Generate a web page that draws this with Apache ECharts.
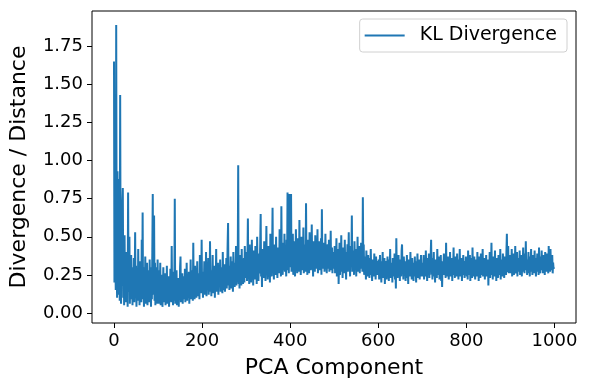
<!DOCTYPE html>
<html>
    <head>
        <meta charset="utf-8">
        <title>KL Divergence</title>
        <script src="https://cdn.jsdelivr.net/npm/echarts/dist/echarts.min.js"></script>
        <style>
            body { margin: 0; background: #fff; }
        </style>
    </head>
    <body>
        <div id="chart1" style="width:589px;height:390px;"></div>
    </body>
    <script type="text/javascript">
        // KL divergence per PCA component, one array per block of 100 components
        var seg0 = [1.65, 0.20, 0.62, 0.35, 0.15, 1.89, 0.40, 0.10, 0.93, 0.25, 0.88, 0.12, 0.45, 0.08, 1.43, 0.30, 0.06, 0.55, 0.18, 0.72,
                    0.82, 0.10, 0.35, 0.05, 0.51, 0.15, 0.28, 0.07, 0.40, 0.12, 0.22, 0.04, 0.79, 0.14, 0.33, 0.50, 0.06, 0.25, 0.13, 0.38,
                    0.09, 0.30, 0.05, 0.24, 0.11, 0.36, 0.07, 0.20, 0.53, 0.10, 0.31, 0.04, 0.18, 0.27, 0.08, 0.42, 0.12, 0.22, 0.05, 0.34,
                    0.10, 0.26, 0.07, 0.48, 0.14, 0.66, 0.09, 0.30, 0.04, 0.21, 0.12, 0.37, 0.06, 0.24, 0.15, 0.33, 0.05, 0.19, 0.10, 0.28,
                    0.07, 0.35, 0.11, 0.22, 0.04, 0.30, 0.09, 0.40, 0.78, 0.12, 0.26, 0.64, 0.08, 0.33, 0.05, 0.30, 0.14, 0.21, 0.06, 0.35];
        var seg1 = [0.12, 0.28, 0.06, 0.20, 0.10, 0.33, 0.05, 0.17, 0.09, 0.25, 0.04, 0.14, 0.30, 0.07, 0.19, 0.11, 0.26, 0.05, 0.22, 0.08,
                    0.31, 0.06, 0.15, 0.10, 0.24, 0.04, 0.18, 0.09, 0.29, 0.12, 0.07, 0.44, 0.10, 0.21, 0.05, 0.27, 0.08, 0.16, 0.75, 0.06,
                    0.19, 0.11, 0.28, 0.05, 0.14, 0.09, 0.23, 0.04, 0.17, 0.10, 0.30, 0.37, 0.07, 0.20, 0.12, 0.26, 0.06, 0.15, 0.09, 0.24,
                    0.11, 0.29, 0.07, 0.18, 0.13, 0.33, 0.08, 0.21, 0.10, 0.16, 0.27, 0.06, 0.19, 0.12, 0.35, 0.09, 0.22, 0.14, 0.28, 0.08,
                    0.46, 0.12, 0.20, 0.09, 0.31, 0.15, 0.24, 0.10, 0.18, 0.34, 0.11, 0.26, 0.14, 0.21, 0.09, 0.38, 0.13, 0.25, 0.16, 0.48];
        var seg2 = [0.13, 0.27, 0.10, 0.22, 0.16, 0.34, 0.12, 0.25, 0.18, 0.40, 0.11, 0.29, 0.15, 0.21, 0.36, 0.12, 0.26, 0.14, 0.47, 0.17,
                    0.28, 0.11, 0.24, 0.19, 0.38, 0.13, 0.23, 0.16, 0.31, 0.10, 0.27, 0.20, 0.42, 0.14, 0.25, 0.18, 0.33, 0.12, 0.29, 0.17,
                    0.22, 0.35, 0.14, 0.26, 0.19, 0.30, 0.13, 0.40, 0.20, 0.24, 0.15, 0.32, 0.14, 0.27, 0.21, 0.36, 0.16, 0.28, 0.45, 0.59,
                    0.18, 0.31, 0.15, 0.26, 0.22, 0.37, 0.16, 0.29, 0.19, 0.34, 0.14, 0.40, 0.21, 0.27, 0.17, 0.33, 0.24, 0.44, 0.18, 0.30,
                    0.20, 0.35, 0.97, 0.19, 0.28, 0.16, 0.38, 0.22, 0.30, 0.18, 0.42, 0.21, 0.33, 0.19, 0.27, 0.36, 0.20, 0.44, 0.23, 0.31];
        var seg3 = [0.24, 0.40, 0.21, 0.36, 0.62, 0.22, 0.33, 0.19, 0.45, 0.26, 0.38, 0.20, 0.30, 0.48, 0.23, 0.35, 0.18, 0.41, 0.27, 0.32,
                    0.22, 0.44, 0.25, 0.37, 0.19, 0.50, 0.28, 0.34, 0.21, 0.39, 0.26, 0.31, 0.46, 0.65, 0.24, 0.36, 0.17, 0.42, 0.29, 0.33,
                    0.23, 0.47, 0.27, 0.38, 0.21, 0.35, 0.57, 0.25, 0.40, 0.22, 0.32, 0.44, 0.26, 0.37, 0.20, 0.52, 0.29, 0.34, 0.24, 0.41,
                    0.69, 0.27, 0.36, 0.22, 0.45, 0.30, 0.38, 0.25, 0.50, 0.28, 0.33, 0.23, 0.43, 0.31, 0.37, 0.26, 0.55, 0.29, 0.35, 0.24,
                    0.70, 0.30, 0.39, 0.25, 0.46, 0.32, 0.28, 0.52, 0.27, 0.41, 0.33, 0.24, 0.48, 0.30, 0.79, 0.28, 0.43, 0.26, 0.78, 0.31];
        var seg4 = [0.77, 0.30, 0.78, 0.27, 0.44, 0.33, 0.52, 0.25, 0.39, 0.30, 0.47, 0.24, 0.36, 0.55, 0.29, 0.41, 0.26, 0.49, 0.32, 0.38,
                    0.27, 0.61, 0.31, 0.43, 0.25, 0.37, 0.50, 0.28, 0.40, 0.33, 0.56, 0.26, 0.45, 0.30, 0.38, 0.27, 0.72, 0.32, 0.42, 0.25,
                    0.48, 0.34, 0.39, 0.26, 0.53, 0.31, 0.44, 0.28, 0.36, 0.58, 0.30, 0.41, 0.24, 0.47, 0.33, 0.38, 0.27, 0.51, 0.35, 0.29,
                    0.44, 0.31, 0.55, 0.26, 0.40, 0.34, 0.47, 0.28, 0.37, 0.30, 0.49, 0.25, 0.68, 0.33, 0.42, 0.29, 0.38, 0.46, 0.27, 0.35,
                    0.52, 0.30, 0.41, 0.26, 0.37, 0.45, 0.29, 0.34, 0.48, 0.27, 0.39, 0.32, 0.54, 0.28, 0.36, 0.43, 0.26, 0.40, 0.31, 0.37];
        var seg5 = [0.29, 0.44, 0.26, 0.38, 0.31, 0.49, 0.24, 0.36, 0.28, 0.42, 0.19, 0.33, 0.46, 0.25, 0.39, 0.30, 0.51, 0.27, 0.35, 0.23,
                    0.43, 0.31, 0.37, 0.26, 0.48, 0.29, 0.34, 0.22, 0.40, 0.32, 0.45, 0.27, 0.36, 0.53, 0.28, 0.38, 0.24, 0.44, 0.30, 0.35,
                    0.64, 0.27, 0.41, 0.31, 0.37, 0.25, 0.47, 0.33, 0.29, 0.42, 0.24, 0.39, 0.30, 0.50, 0.27, 0.36, 0.32, 0.44, 0.26, 0.38,
                    0.29, 0.46, 0.31, 0.40, 0.27, 0.76, 0.33, 0.45, 0.25, 0.37, 0.29, 0.34, 0.22, 0.41, 0.28, 0.33, 0.24, 0.38, 0.27, 0.31,
                    0.23, 0.36, 0.28, 0.42, 0.25, 0.32, 0.21, 0.35, 0.27, 0.30, 0.24, 0.39, 0.26, 0.33, 0.22, 0.37, 0.28, 0.31, 0.25, 0.34];
        var seg6 = [0.26, 0.35, 0.22, 0.31, 0.38, 0.24, 0.29, 0.20, 0.34, 0.27, 0.40, 0.23, 0.30, 0.25, 0.36, 0.19, 0.32, 0.27, 0.34, 0.22,
                    0.29, 0.37, 0.24, 0.31, 0.21, 0.35, 0.27, 0.42, 0.23, 0.30, 0.26, 0.33, 0.20, 0.36, 0.28, 0.31, 0.24, 0.39, 0.22, 0.30,
                    0.16, 0.49, 0.27, 0.34, 0.23, 0.30, 0.38, 0.25, 0.32, 0.21, 0.35, 0.28, 0.24, 0.41, 0.45, 0.26, 0.33, 0.22, 0.37, 0.29,
                    0.25, 0.34, 0.21, 0.31, 0.27, 0.38, 0.23, 0.30, 0.19, 0.35, 0.28, 0.32, 0.24, 0.40, 0.26, 0.29, 0.22, 0.36, 0.27, 0.33,
                    0.21, 0.31, 0.26, 0.37, 0.24, 0.30, 0.20, 0.34, 0.28, 0.39, 0.23, 0.32, 0.27, 0.35, 0.22, 0.30, 0.25, 0.38, 0.24, 0.33];
        var seg7 = [0.24, 0.33, 0.27, 0.38, 0.22, 0.31, 0.35, 0.24, 0.41, 0.28, 0.33, 0.21, 0.36, 0.26, 0.30, 0.39, 0.23, 0.34, 0.28, 0.37,
                    0.48, 0.25, 0.32, 0.22, 0.36, 0.29, 0.40, 0.24, 0.31, 0.20, 0.35, 0.27, 0.33, 0.23, 0.42, 0.28, 0.30, 0.25, 0.37, 0.22,
                    0.32, 0.26, 0.38, 0.21, 0.29, 0.17, 0.34, 0.27, 0.31, 0.39, 0.25, 0.35, 0.28, 0.23, 0.46, 0.27, 0.33, 0.24, 0.37, 0.29,
                    0.22, 0.34, 0.28, 0.40, 0.24, 0.31, 0.26, 0.36, 0.21, 0.33, 0.29, 0.43, 0.25, 0.30, 0.23, 0.37, 0.27, 0.32, 0.24, 0.39,
                    0.26, 0.31, 0.22, 0.35, 0.28, 0.42, 0.24, 0.30, 0.27, 0.36, 0.21, 0.33, 0.29, 0.38, 0.25, 0.31, 0.23, 0.34, 0.28, 0.37];
        var seg8 = [0.30, 0.24, 0.36, 0.22, 0.41, 0.27, 0.33, 0.25, 0.38, 0.21, 0.31, 0.28, 0.36, 0.23, 0.43, 0.26, 0.32, 0.24, 0.37, 0.29,
                    0.22, 0.35, 0.27, 0.31, 0.24, 0.40, 0.26, 0.33, 0.21, 0.37, 0.28, 0.30, 0.23, 0.39, 0.25, 0.34, 0.27, 0.42, 0.24, 0.31,
                    0.26, 0.36, 0.22, 0.33, 0.28, 0.38, 0.24, 0.31, 0.27, 0.35, 0.18, 0.32, 0.26, 0.40, 0.23, 0.34, 0.29, 0.46, 0.25, 0.33,
                    0.22, 0.37, 0.27, 0.31, 0.24, 0.41, 0.26, 0.34, 0.21, 0.36, 0.28, 0.30, 0.23, 0.38, 0.27, 0.33, 0.25, 0.42, 0.22, 0.35,
                    0.28, 0.32, 0.24, 0.39, 0.26, 0.31, 0.23, 0.37, 0.29, 0.34, 0.25, 0.40, 0.52, 0.30, 0.27, 0.44, 0.26, 0.35, 0.31, 0.38];
        var seg9 = [0.26, 0.37, 0.29, 0.42, 0.24, 0.33, 0.28, 0.39, 0.25, 0.35, 0.30, 0.44, 0.26, 0.32, 0.28, 0.40, 0.24, 0.36, 0.30, 0.34,
                    0.27, 0.41, 0.25, 0.33, 0.29, 0.38, 0.24, 0.36, 0.31, 0.43, 0.27, 0.34, 0.26, 0.39, 0.30, 0.47, 0.28, 0.35, 0.25, 0.32,
                    0.29, 0.40, 0.26, 0.34, 0.24, 0.37, 0.30, 0.42, 0.27, 0.33, 0.25, 0.38, 0.29, 0.35, 0.26, 0.41, 0.28, 0.32, 0.24, 0.36,
                    0.30, 0.39, 0.27, 0.34, 0.25, 0.43, 0.29, 0.33, 0.26, 0.37, 0.28, 0.41, 0.31, 0.35, 0.26, 0.38, 0.29, 0.34, 0.25, 0.40,
                    0.28, 0.35, 0.27, 0.39, 0.30, 0.33, 0.26, 0.44, 0.29, 0.36, 0.27, 0.42, 0.31, 0.34, 0.28, 0.38, 0.26, 0.33, 0.29, 0.30];

        var xTicks = [0, 200, 400, 600, 800, 1000];
        var yTicks = [0, 0.25, 0.5, 0.75, 1.0, 1.25, 1.5, 1.75];

        var segs = [seg0, seg1, seg2, seg3, seg4, seg5, seg6, seg7, seg8, seg9];
        var points = [];
        for (var s = 0; s < segs.length; s++) {
            var step = 100 / segs[s].length;
            for (var i = 0; i < segs[s].length; i++) {
                points.push([s * 100 + i * step, segs[s][i]]);
            }
        }

        var font = 'DejaVu Sans';
        var myChart1 = echarts.init(document.getElementById('chart1'));
        var option = {
            animation: false,
            grid: {
                left: 92, right: 13, top: 11, bottom: 67,
                show: true, borderColor: '#000', borderWidth: 1
            },
            legend: {
                data: [{name: 'KL Divergence', icon: 'rect'}],
                right: 22, top: 19,
                itemWidth: 40, itemHeight: 2,
                padding: [7, 10, 7, 5],
                borderColor: '#d0d0d0', borderWidth: 1, borderRadius: 3,
                textStyle: {fontFamily: font, fontSize: 19, color: '#000', padding: [0, 0, 0, 10]}
            },
            xAxis: {
                type: 'value',
                min: -49.95, max: 1048.95,
                name: 'PCA Component',
                nameLocation: 'middle', nameGap: 34,
                nameTextStyle: {fontFamily: font, fontSize: 22, color: '#000'},
                axisLine: {show: false, onZero: false},
                axisTick: {show: true, length: 5, customValues: xTicks, lineStyle: {color: '#000'}},
                axisLabel: {
                    customValues: xTicks, margin: 9, fontFamily: font, fontSize: 18, color: '#000',
                    formatter: function (v) { return String(v); }
                },
                splitLine: {show: false}
            },
            yAxis: {
                type: 'value',
                min: -0.066, max: 1.982,
                name: 'Divergence / Distance',
                nameLocation: 'middle', nameGap: 62,
                nameTextStyle: {fontFamily: font, fontSize: 22, color: '#000'},
                axisLine: {show: false, onZero: false},
                axisTick: {show: true, length: 5, customValues: yTicks, lineStyle: {color: '#000'}},
                axisLabel: {
                    customValues: yTicks, margin: 9, fontFamily: font, fontSize: 18, color: '#000',
                    formatter: function (v) { return v.toFixed(2); }
                },
                splitLine: {show: false}
            },
            series: [{
                name: 'KL Divergence',
                type: 'line',
                data: points,
                showSymbol: false,
                color: '#1f77b4',
                lineStyle: {width: 2, color: '#1f77b4'}
            }]
        };
        myChart1.setOption(option);
    </script>
</html>
